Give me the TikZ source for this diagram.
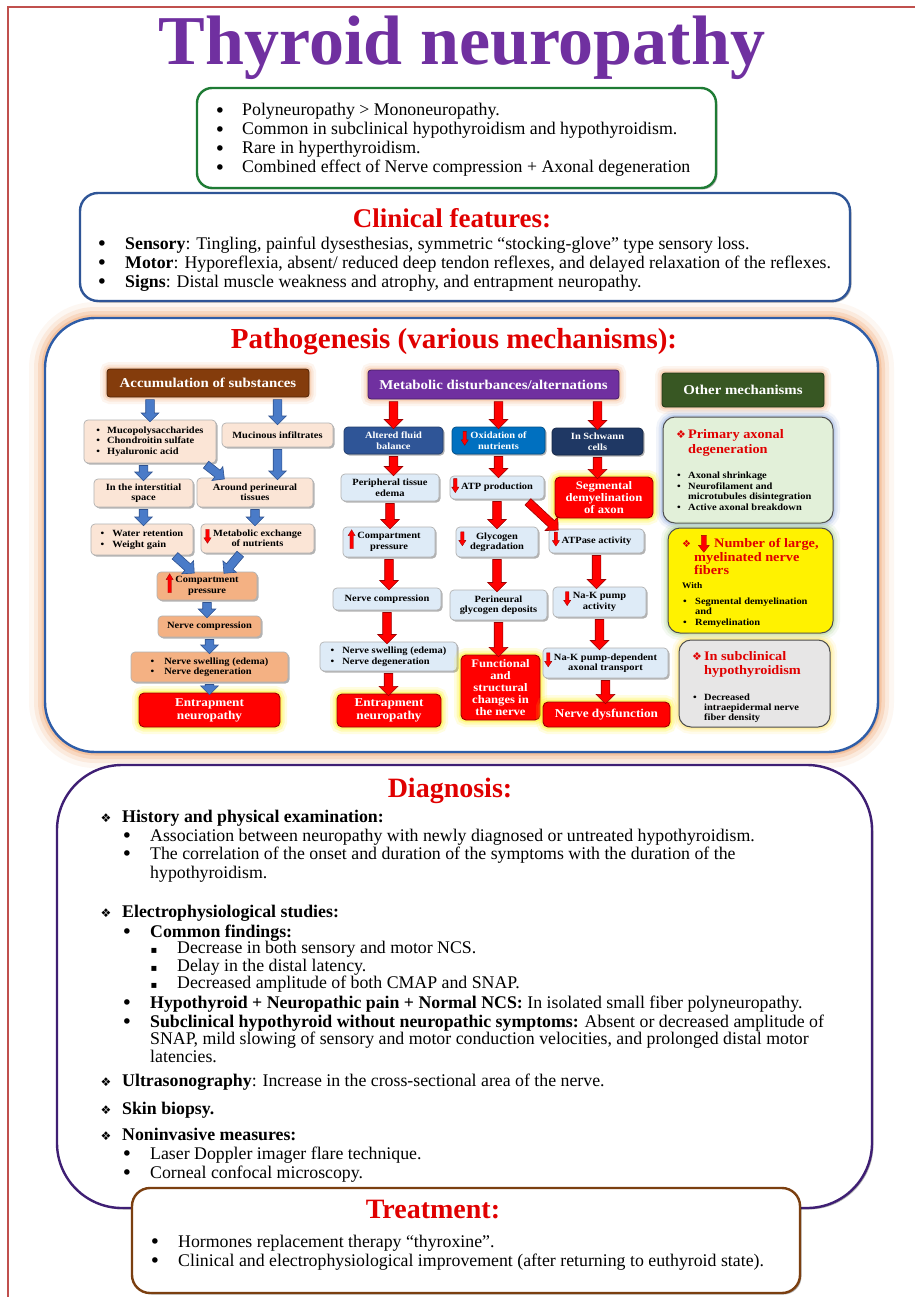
\documentclass[tikz,border=0pt]{standalone}
\usepackage{fontspec}
\setmainfont{Liberation Serif}
\newfontfamily\pf{Liberation Serif}[FakeStretch=1.1]
\newfontfamily\symf{DejaVu Sans}
\usetikzlibrary{shapes.arrows,shadows,calc}

\definecolor{framered}{HTML}{C0504D}
\definecolor{titlepurple}{HTML}{7030A0}
\definecolor{boxgreen}{HTML}{1E7B34}
\definecolor{boxblue}{HTML}{2F5597}
\definecolor{headred}{HTML}{E00000}
\definecolor{pathblue}{HTML}{2E5DA8}
\definecolor{glowor}{HTML}{F4B183}
\definecolor{diagpurple}{HTML}{3F1F74}
\definecolor{treatbrown}{HTML}{7B3F10}
\definecolor{peach}{HTML}{FBE5D6}
\definecolor{apricot}{HTML}{F4B183}
\definecolor{paleblue}{HTML}{DEEBF7}
\definecolor{brownhdr}{HTML}{843C0C}
\definecolor{purplehdr}{HTML}{7030A0}
\definecolor{greenhdr}{HTML}{385723}
\definecolor{fluidblue}{HTML}{2F5597}
\definecolor{oxblue}{HTML}{0070C0}
\definecolor{navyhdr}{HTML}{1F3864}
\definecolor{palegreen}{HTML}{E2F0D9}
\definecolor{palegray}{HTML}{E7E6E6}
\definecolor{arrblue}{HTML}{4A7BC8}
\definecolor{arrblueline}{HTML}{2F528F}
\definecolor{alarm}{HTML}{FF0000}
\definecolor{darkred}{HTML}{9A0000}
\definecolor{blueglow}{HTML}{8FAADC}
\definecolor{greenglow}{HTML}{A9D18E}
\definecolor{yellowglow}{HTML}{FFE45C}

\tikzset{
  glow/.style={preaction={draw=#1,line width=14pt,draw opacity=0.12},
               preaction={draw=#1,line width=9pt,draw opacity=0.2},
               preaction={draw=#1,line width=4.5pt,draw opacity=0.35}},
  bigglow/.style={preaction={draw=glowor,line width=32pt,draw opacity=0.10},
                  preaction={draw=glowor,line width=22pt,draw opacity=0.18},
                  preaction={draw=glowor,line width=14pt,draw opacity=0.3},
                  preaction={draw=glowor,line width=7pt,draw opacity=0.5}},
  softshadow/.style={drop shadow={shadow xshift=1.5pt,shadow yshift=-1.5pt,opacity=0.3,fill=black}},
  panel/.style={rounded corners=#1, line width=2.4pt, fill=white, softshadow},
  txt/.style={inner sep=0pt, font=\fontsize{17.8}{19}\selectfont},
  bulletmark/.style={inner sep=0pt, anchor=base, font=\symf\fontsize{19}{19}\selectfont},
  head/.style={anchor=base, inner sep=0pt, text=headred, font=\bfseries\fontsize{28}{30}\selectfont},
  pb/.style={rounded corners=4pt, draw=gray!60, line width=0.7pt, align=center, inner sep=1pt,
     text=black, font=\pf\bfseries\fontsize{9.5}{10.5}\selectfont, softshadow},
  hdr/.style={rounded corners=3pt, fill=#1, draw=#1!60!black, line width=0.8pt, text=white,
     inner sep=1pt, font=\pf\bfseries\fontsize{13.5}{15}\selectfont, glow=glowor},
  hdrsmall/.style={rounded corners=4pt, fill=#1, draw=#1!70!black, line width=0.7pt, text=white,
     align=center, inner sep=1pt, font=\pf\bfseries\fontsize{9.5}{10.5}\selectfont, softshadow},
  alarmbox/.style={rounded corners=5pt, fill=alarm, draw=darkred, line width=0.9pt, text=white,
     align=center, inner sep=1pt, font=\pf\bfseries\fontsize{12}{13}\selectfont, glow=yellow},
  ombox/.style={rounded corners=12pt, fill=#1, draw=gray!60!black, line width=1pt},
  omtitle/.style={anchor=base west, inner sep=0pt, text=headred, font=\pf\bfseries\fontsize{13}{14}\selectfont},
  omsmall/.style={anchor=base west, inner sep=0pt, font=\pf\bfseries\fontsize{9.5}{10.5}\selectfont},
  barr/.style={single arrow, fill=arrblue, draw=arrblueline, line width=0.6pt,
     inner xsep=0pt, inner ysep=4pt, single arrow head extend=4.5pt, single arrow head indent=0pt},
  rarr/.style={single arrow, fill=alarm, draw=darkred, line width=0.6pt,
     inner xsep=0pt, inner ysep=4pt, single arrow head extend=5pt, single arrow head indent=0pt}
}

% box from its corners: [style]{name}{x1}{y1}{x2}{y2}{text}
\newcommand\bx[7][]{\node[#1,minimum width={#5-#3},minimum height={#6-#4}] (#2) at ({(#3+#5)/2},{(#4+#6)/2}) {#7};}
% block arrow between two points
\newcommand\blk[3]{\path let \p1=($(#3)-(#2)$), \n1={atan2(\y1,\x1)}, \n2={veclen(\x1,\y1)} in
  node[#1, minimum height=\n2, rotate=\n1] at ($(#2)!0.5!(#3)$) {};}
% bullet line: {name}{bullet x}{text x}{baseline}{text}
\newcommand\bl[5]{\node[bulletmark] (#1b) at (#2,#4+1.5) {•};
  \node[txt,anchor=base west] (#1) at (#3,#4) {#5};}
% square bullet line
\newcommand\sqb[5]{\node[inner sep=0pt,anchor=base,font=\symf\fontsize{10}{10}\selectfont] (#1b) at (#2,#4) {▪};
  \node[txt,anchor=base west] (#1) at (#3,#4) {#5};}
% diamond bullet line
\newcommand\dmd[3]{\node[inner sep=0pt,anchor=base,font=\symf\fontsize{12}{12}\selectfont] (#1b) at (106,#2) {❖};
  \node[txt,anchor=base west] (#1) at (122,#2) {#3};}
% small bullet line in the mechanism boxes
\newcommand\omb[5]{\node[omsmall] (#1b) at (#2,#4) {\textbullet};
  \node[omsmall] (#1) at (#3,#4) {#5};}
\newcommand\omsym{{\symf\fontsize{11}{11}\selectfont ❖}\hspace{2pt}}

% small red block arrows used inside text (basic pgf layer)
\newcommand\pp[2]{\pgfpoint{#1pt}{#2pt}}
\newcommand\redarrowshape[5]{% half head width, head length, half shaft, total length, up/down flag
  \begin{pgfpicture}
  \pgfsetfillcolor{alarm}\pgfsetstrokecolor{darkred}\pgfsetlinewidth{0.3pt}
  \ifnum#5=0
    \pgfpathmoveto{\pp{0}{0}}\pgfpathlineto{\pp{#1}{#2}}\pgfpathlineto{\pp{#3}{#2}}
    \pgfpathlineto{\pp{#3}{#4}}\pgfpathlineto{\pp{-#3}{#4}}\pgfpathlineto{\pp{-#3}{#2}}
    \pgfpathlineto{\pp{-#1}{#2}}\pgfpathclose
  \else
    \pgfpathmoveto{\pp{0}{#4}}\pgfpathlineto{\pp{#1}{#2}}\pgfpathlineto{\pp{#3}{#2}}
    \pgfpathlineto{\pp{#3}{0}}\pgfpathlineto{\pp{-#3}{0}}\pgfpathlineto{\pp{-#3}{#2}}
    \pgfpathlineto{\pp{-#1}{#2}}\pgfpathclose
  \fi
  \pgfusepath{fill,stroke}
  \end{pgfpicture}}
\newsavebox\dnsmall
\newsavebox\upsmall
\newsavebox\dnbig
\newcommand\icdown{\llap{\smash{\raisebox{-7pt}{\usebox\dnsmall}}\hspace{2pt}}}
\newcommand\icdownwide{\llap{\smash{\raisebox{-7pt}{\usebox\dnsmall}}\hspace{10pt}}}
\newcommand\icdownone{\llap{\smash{\raisebox{-3pt}{\usebox\dnsmall}}\hspace{2pt}}}
\newcommand\icup{\llap{\smash{\raisebox{-10pt}{\usebox\upsmall}}\hspace{2pt}}}

\begin{document}
\sbox\dnsmall{\redarrowshape{3.6}{5.5}{1.7}{14}{0}}
\sbox\upsmall{\redarrowshape{3.6}{13}{1.7}{19}{1}}
\sbox\dnbig{\redarrowshape{5.5}{7}{2.6}{17}{0}}
\begin{tikzpicture}[x=1pt,y=-1pt]
\useasboundingbox (0,0) rectangle (915,1297);
\fill[white] (0,0) rectangle (915,1297);
\draw[framered,line width=1.6pt] (8,1297) -- (8,7) -- (915,7);

% ---------- title ----------
\node[anchor=base,inner sep=0pt,text=titlepurple,font=\bfseries\fontsize{70}{72}\selectfont] (title) at (462,65) {Thyroid neuropathy};

% ---------- key facts ----------
\bx[panel=15pt,draw=boxgreen]{keyfacts}{197}{88}{716}{188}{}
\bl{g1}{220}{242}{116}{Polyneuropathy > Mononeuropathy.}
\bl{g2}{220}{242}{135}{Common in subclinical hypothyroidism and hypothyroidism.}
\bl{g3}{220}{242}{154}{Rare in hyperthyroidism.}
\bl{g4}{220}{242}{173}{Combined effect of Nerve compression + Axonal degeneration}

% ---------- pathogenesis panel (drawn under the clinical panel's edge) ----------
\bx[panel=50pt,draw=pathblue,bigglow]{patho}{45}{318}{878}{752}{}

% ---------- clinical features ----------
\bx[panel=18pt,draw=boxblue]{clinical}{80}{193}{850}{301}{}
\node[head,font=\bfseries\fontsize{27}{29}\selectfont] (cftitle) at (452,228) {Clinical features:};
\bl{cf1}{102}{125}{249}{\textbf{Sensory}: Tingling, painful dysesthesias, symmetric “stocking-glove” type sensory loss.}
\bl{cf2}{102}{125}{268}{\textbf{Motor}: Hyporeflexia, absent/ reduced deep tendon reflexes, and delayed relaxation of the reflexes.}
\bl{cf3}{102}{125}{287}{\textbf{Signs}: Distal muscle weakness and atrophy, and entrapment neuropathy.}

% ---------- pathogenesis content ----------
\node[head,font=\bfseries\fontsize{29}{31}\selectfont] (pgtitle) at (454,348) {Pathogenesis (various mechanisms):};

\bx[hdr=brownhdr]{hA}{107}{369}{309}{397}{Accumulation of substances}
\bx[hdr=purplehdr]{hB}{368}{370}{619}{399}{Metabolic disturbances/alternations}
\bx[hdr=greenhdr]{hC}{662}{373}{824}{407}{Other mechanisms}

% accumulation column
\bx[pb,fill=peach,align=left]{a1}{84}{420}{216}{463}{\textbullet\hspace{7pt}Mucopolysaccharides\\ \textbullet\hspace{7pt}Chondroitin sulfate\\ \textbullet\hspace{7pt}Hyaluronic acid}
\bx[pb,fill=peach]{a2}{222}{423}{333}{447}{Mucinous infiltrates}
\bx[pb,fill=peach]{a3}{94}{479}{193}{507}{In the interstitial\\space}
\bx[pb,fill=peach]{a4}{197}{478}{313}{507}{Around perineural\\tissues}
\bx[pb,fill=peach,align=left]{a5}{91}{524}{193}{555}{\textbullet\hspace{8pt}Water retention\\ \textbullet\hspace{8pt}Weight gain}
\bx[pb,fill=peach]{a6}{201}{524}{314}{553}{\icdown Metabolic exchange\\of nutrients}
\bx[pb,fill=apricot]{a7}{157}{572}{257}{600}{\icup Compartment\\pressure}
\bx[pb,fill=apricot]{a8}{158}{616}{261}{637}{Nerve compression}
\bx[pb,fill=apricot,align=left]{a9}{131}{652}{288}{682}{\textbullet\hspace{10pt}Nerve swelling (edema)\\ \textbullet\hspace{10pt}Nerve degeneration}
\bx[alarmbox]{a10}{139}{693}{280}{727}{Entrapment\\neuropathy}

\coordinate (a1d) at ($(a1.south east)+(-12,0)$);
\coordinate (a4d) at ($(a4.north west)+(26,0)$);
\coordinate (a5d) at ($(a5.south east)+(-20,-1)$);
\coordinate (a6d) at ($(a6.south west)+(41,-1)$);
\coordinate (a7l) at ($(a7.north west)+(36,0)$);
\coordinate (a7r) at ($(a7.north east)+(-32,0)$);

\blk{barr}{hA.south -| a1.north}{a1.north}
\blk{barr}{hA.south -| a2.north}{a2.north}
\blk{barr}{a1.south -| a3.north}{a3.north}
\blk{barr}{a2.south}{a4.north -| a2.south}
\blk{barr}{a1d}{a4d}
\blk{barr}{a3.south}{a5.north -| a3.south}
\blk{barr}{a4.south}{a6.north -| a4.south}
\blk{barr}{a5d}{a7l}
\blk{barr}{a6d}{a7r}
\blk{barr}{a7.south}{a8.north -| a7.south}
\blk{barr}{a8.south}{a9.north -| a8.south}
\blk{barr}{a9.south}{a10.north -| a9.south}

% metabolic column
\bx[hdrsmall=fluidblue]{b1}{344}{427}{443}{454}{Altered fluid\\balance}
\bx[hdrsmall=oxblue]{b2}{452}{427}{545}{454}{\icdown Oxidation of\\nutrients}
\bx[hdrsmall=navyhdr]{b3}{552}{428}{643}{455}{In Schwann\\cells}
\bx[pb,fill=paleblue]{b4}{341}{474}{439}{501}{Peripheral tissue\\edema}
\bx[pb,fill=paleblue]{b5}{450}{476}{544}{499}{\icdownone ATP production}
\bx[alarmbox,font=\pf\bfseries\fontsize{11.5}{12}\selectfont]{b6}{555}{477}{653}{518}{Segmental\\demyelination\\of axon}
\bx[pb,fill=paleblue]{b7}{343}{527}{435}{557}{\icup Compartment\\pressure}
\bx[pb,fill=paleblue]{b8}{456}{527}{538}{557}{\icdownwide Glycogen\\degradation}
\bx[pb,fill=paleblue]{b9}{549}{529}{644}{553}{\icdownone ATPase activity}
\bx[pb,fill=paleblue]{b10}{333}{588}{441}{610}{Nerve compression}
\bx[pb,fill=paleblue]{b11}{450}{590}{547}{620}{Perineural\\glycogen deposits}
\bx[pb,fill=paleblue]{b12}{553}{587}{646}{617}{\icdown Na-K pump\\activity}
\bx[pb,fill=paleblue,align=left]{b13}{320}{642}{457}{671}{\textbullet\hspace{8pt}Nerve swelling (edema)\\ \textbullet\hspace{8pt}Nerve degeneration}
\bx[alarmbox,font=\pf\bfseries\fontsize{11.5}{11.8}\selectfont]{b14}{461}{655}{540}{720}{Functional\\and\\structural\\changes in\\the nerve}
\bx[pb,fill=paleblue]{b15}{543}{648}{668}{678}{\icdown Na-K pump-dependent\\axonal transport}
\bx[alarmbox]{b16}{337}{694}{441}{727}{Entrapment\\neuropathy}
\bx[alarmbox]{b17}{543}{702}{670}{727}{Nerve dysfunction}

\coordinate (b5d) at ($(b5.south east)+(-18,1)$);
\coordinate (b9d) at ($(b9.north west)+(8,0)$);

\blk{rarr}{hB.south -| b1.north}{b1.north}
\blk{rarr}{hB.south -| b2.north}{b2.north}
\blk{rarr}{hB.south -| b3.north}{b3.north}
\blk{rarr}{b1.south}{b4.north -| b1.south}
\blk{rarr}{b2.south}{b5.north -| b2.south}
\blk{rarr}{b3.south}{b6.north -| b3.south}
\blk{rarr}{b4.south}{b7.north -| b4.south}
\blk{rarr}{b5.south}{b8.north -| b5.south}
\blk{rarr}{b5d}{b9d}
\blk{rarr}{b7.south}{b10.north -| b7.south}
\blk{rarr}{b8.south}{b11.north -| b8.south}
\blk{rarr}{b9.south}{b12.north -| b9.south}
\blk{rarr}{b10.south}{b13.north -| b10.south}
\blk{rarr}{b11.south}{b14.north -| b11.south}
\blk{rarr}{b12.south}{b15.north -| b12.south}
\blk{rarr}{b13.south}{b16.north -| b13.south}
\blk{rarr}{b15.south}{b17.north -| b15.south}

% other mechanisms column
\bx[ombox=palegreen,glow=blueglow]{om1}{663}{417}{833}{523}{}
\node[omtitle] (om1t) at (676,438) {\omsym Primary axonal};
\node[omtitle] (om1t2) at (688,453) {degeneration};
\omb{om1a}{677}{688}{478}{Axonal shrinkage}
\omb{om1b}{677}{688}{489}{Neurofilament and}
\node[omsmall] (om1c) at (688,499) {microtubules disintegration};
\omb{om1d}{677}{688}{510}{Active axonal breakdown}

\bx[ombox=yellow,glow=greenglow]{om2}{668}{528}{833}{633}{}
\node[omtitle,text=headred] (om2s) at (682,547) {{\symf\fontsize{10}{10}\selectfont ❖}};
\node[inner sep=0pt,anchor=north west] (om2arr) at (698,535) {\usebox\dnbig};
\node[omtitle] (om2t) at (714,547) {Number of large,};
\node[omtitle] (om2t2) at (694,561) {myelinated nerve};
\node[omtitle] (om2t3) at (694,574) {fibers};
\node[omsmall,font=\pf\bfseries\fontsize{8.5}{9.5}\selectfont] (om2w) at (682,588) {With};
\omb{om2a}{683}{695}{604}{Segmental demyelination}
\node[omsmall] (om2a2) at (695,614) {and};
\omb{om2b}{683}{695}{625}{Remyelination}

\bx[ombox=palegray,glow=yellowglow]{om3}{679}{640}{830}{727}{}
\node[omtitle] (om3t) at (692,660) {\omsym In subclinical};
\node[omtitle] (om3t2) at (704,674) {hypothyroidism};
\omb{om3a}{693}{704}{700}{Decreased}
\node[omsmall] (om3a2) at (704,710) {intraepidermal nerve};
\node[omsmall] (om3a3) at (704,720) {fiber density};

% ---------- diagnosis ----------
\bx[panel=65pt,draw=diagpurple]{diag}{57}{765}{872}{1208}{}
\node[head] (dgtitle) at (450,797) {Diagnosis:};
\dmd{dh1}{822}{\textbf{History and physical examination:}}
\bl{dl1}{127}{150}{841}{Association between neuropathy with newly diagnosed or untreated hypothyroidism.}
\bl{dl2}{127}{150}{859}{The correlation of the onset and duration of the symptoms with the duration of the}
\node[txt,anchor=base west] (dl2c) at (150,878) {hypothyroidism.};
\dmd{dh2}{917}{\textbf{Electrophysiological studies:}}
\bl{dl3}{127}{150}{937}{\textbf{Common findings:}}
\sqb{ds1}{154}{177}{953}{Decrease in both sensory and motor NCS.}
\sqb{ds2}{154}{177}{971}{Delay in the distal latency.}
\sqb{ds3}{154}{177}{988}{Decreased amplitude of both CMAP and SNAP.}
\bl{dl4}{127}{150}{1008}{\textbf{Hypothyroid + Neuropathic pain + Normal NCS:} In isolated small fiber polyneuropathy.}
\bl{dl5}{127}{150}{1027}{\textbf{Subclinical hypothyroid without neuropathic symptoms:} Absent or decreased amplitude of}
\node[txt,anchor=base west] (dl5b) at (150,1044) {SNAP, mild slowing of sensory and motor conduction velocities, and prolonged distal motor};
\node[txt,anchor=base west] (dl5c) at (150,1062) {latencies.};
\dmd{dh3}{1086}{\textbf{Ultrasonography}: Increase in the cross-sectional area of the nerve.}
\dmd{dh4}{1114}{\textbf{Skin biopsy.}}
\dmd{dh5}{1140}{\textbf{Noninvasive measures:}}
\bl{dl6}{127}{150}{1159}{Laser Doppler imager flare technique.}
\bl{dl7}{127}{150}{1178}{Corneal confocal microscopy.}

% ---------- treatment ----------
\bx[panel=18pt,draw=treatbrown]{treat}{132}{1188}{800}{1293}{}
\node[head] (trtitle) at (433,1218) {Treatment:};
\bl{tl1}{155}{178}{1247}{Hormones replacement therapy “thyroxine”.}
\bl{tl2}{155}{178}{1266}{Clinical and electrophysiological improvement (after returning to euthyroid state).}
\end{tikzpicture}
\end{document}
